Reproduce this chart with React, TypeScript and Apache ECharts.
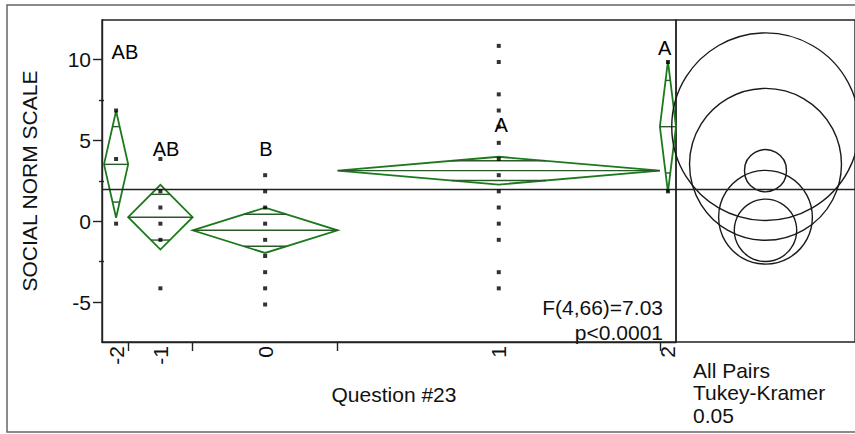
import React, { useEffect, useRef } from "react";
import * as echarts from "echarts";

// ---- data ----
const categories = ["-2", "-1", "0", "1", "2"];
const counts = [3, 8, 18, 40, 2];
const groupMeans = [3.52, 0.25, -0.56, 3.13, 5.85];
const ciHalf = [3.3, 2.0, 1.4, 0.86, 4.05];
const circleRadius = [4.7, 2.9, 1.93, 1.3, 5.8];
const grandMean = 2.0;
const letters = ["AB", "AB", "B", "A", "A"];
const letterX = [2.6, 7.7, 20.1, 49.3, 69.6];
const letterY = [10.45, 4.45, 4.45, 5.95, 10.7];

const pointsM2 = [6.85, 3.85, -0.15];
const pointsM1 = [3.85, 1.85, 0.85, -0.15, -1.15, -4.15];
const points0 = [2.85, 1.85, 0.85, -0.15, -1.15, -2.15, -3.15, -4.15, -5.15];
const points1 = [10.85, 9.85, 7.85, 6.85, 5.85, 4.85, 3.85, 2.85, 1.85, 0.85, -0.15, -1.15, -3.15, -4.15];
const points2 = [9.85, 1.85];
const groupPoints = [pointsM2, pointsM1, points0, points1, points2];

const yMajorTicks = [-5, 0, 5, 10];
const yMinorTicks = [-2.5, 2.5, 7.5];
const statLines = ["F(4,66)=7.03", "p<0.0001"];
const testLines = ["All Pairs", "Tukey-Kramer", "0.05"];
const xTitle = "Question #23";
const yTitle = "SOCIAL NORM SCALE";

const FONT = "'Liberation Sans', Arial, sans-serif";
const FS = 21;
const TXT = "#111";
const GREEN = "#1c7a1c";
const GREEN_DARK = "#2a5a2a";
const AXIS = "#222";
const Y_MIN = -7.47;
const Y_MAX = 12.45;

function buildOption() {
  const starts: number[] = [];
  let acc = 0;
  counts.forEach((n) => {
    starts.push(acc);
    acc += n;
  });
  const total = acc;
  const ends = starts.map((s, i) => s + counts[i]);
  const centers = starts.map((s, i) => s + counts[i] / 2);
  const boundaries = ends.slice(0, ends.length - 1);

  const diamondData = categories.map((_, i) => [starts[i], ends[i], groupMeans[i], ciHalf[i]]);
  const pointData: number[][] = [];
  groupPoints.forEach((arr, i) => arr.forEach((v) => pointData.push([centers[i], v])));
  const letterData = letters.map((l, i) => ({ value: [letterX[i], letterY[i]], name: l }));
  const circleData = categories.map((_, i) => [0, groupMeans[i], circleRadius[i]]);

  const meanLine = {
    silent: true,
    symbol: ["none", "none"],
    label: { show: false },
    lineStyle: { color: AXIS, width: 1.3, type: "solid" },
    data: [{ yAxis: grandMean }],
  };

  return {
    animation: false,
    backgroundColor: "#fff",
    textStyle: { fontFamily: FONT },
    grid: [
      { left: 102, top: 20, right: 179, bottom: 92, show: true, borderColor: AXIS, borderWidth: 1.4 },
      { left: 676, top: 20, width: 181, bottom: 92, show: true, borderColor: AXIS, borderWidth: 1.4 },
    ],
    xAxis: [
      {
        type: "value",
        gridIndex: 0,
        min: -0.25,
        max: total,
        name: xTitle,
        nameLocation: "middle",
        nameGap: 42,
        nameTextStyle: { fontSize: FS, color: TXT, fontFamily: FONT, padding: [0, 0, 0, 10] },
        splitLine: { show: false },
        axisLine: { show: true, onZero: false, lineStyle: { color: AXIS, width: 1.4 } },
        axisTick: { show: true, length: 9, customValues: boundaries, lineStyle: { color: AXIS, width: 1.4 } },
        axisLabel: {
          show: true,
          customValues: centers,
          rotate: 90,
          margin: 4,
          fontSize: FS,
          color: TXT,
          fontFamily: FONT,
          formatter: (v: number) => {
            const idx = centers.findIndex((c) => Math.abs(c - v) < 1e-6);
            return idx >= 0 ? categories[idx] : "";
          },
        },
      },
      { type: "value", gridIndex: 1, min: -1, max: 1, show: false },
    ],
    yAxis: [
      {
        type: "value",
        gridIndex: 0,
        min: Y_MIN,
        max: Y_MAX,
        name: yTitle,
        nameLocation: "middle",
        nameGap: 62,
        nameRotate: 90,
        nameTextStyle: { fontSize: FS, color: TXT, fontFamily: FONT },
        splitLine: { show: false },
        axisLine: { show: true, onZero: false, lineStyle: { color: AXIS, width: 1.4 } },
        axisTick: { show: true, length: 9, customValues: yMajorTicks, lineStyle: { color: AXIS, width: 1.4 } },
        axisLabel: { show: true, customValues: yMajorTicks, margin: 11, fontSize: FS, color: TXT, fontFamily: FONT },
      },
      {
        type: "value",
        gridIndex: 0,
        position: "left",
        min: Y_MIN,
        max: Y_MAX,
        splitLine: { show: false },
        axisLine: { show: false },
        axisLabel: { show: false },
        axisTick: { show: true, length: 5, customValues: yMinorTicks, lineStyle: { color: AXIS, width: 1.4 } },
      },
      { type: "value", gridIndex: 1, min: Y_MIN, max: Y_MAX, show: false },
    ],
    series: [
      {
        type: "custom",
        name: "diamonds",
        xAxisIndex: 0,
        yAxisIndex: 0,
        encode: { x: [0, 1], y: 2 },
        data: diamondData,
        markLine: meanLine,
        renderItem: (params: any, api: any) => {
          const x0 = api.value(0);
          const x1 = api.value(1);
          const m = api.value(2);
          const h = api.value(3);
          const xc = (x0 + x1) / 2;
          const pL = api.coord([x0, m]);
          const pR = api.coord([x1, m]);
          const pT = api.coord([xc, m + h]);
          const pB = api.coord([xc, m - h]);
          const d = h / Math.SQRT2;
          const hw = ((x1 - x0) / 2) * (1 - 1 / Math.SQRT2);
          const uA = api.coord([xc - hw, m + d]);
          const uB = api.coord([xc + hw, m + d]);
          const lA = api.coord([xc - hw, m - d]);
          const lB = api.coord([xc + hw, m - d]);
          const lineStyle = { stroke: GREEN_DARK, lineWidth: 1.4 };
          return {
            type: "group",
            children: [
              {
                type: "polygon",
                shape: { points: [pL, pT, pR, pB] },
                style: { fill: "none", stroke: GREEN, lineWidth: 1.8 },
              },
              { type: "line", shape: { x1: pL[0], y1: pL[1], x2: pR[0], y2: pR[1] }, style: lineStyle },
              { type: "line", shape: { x1: uA[0], y1: uA[1], x2: uB[0], y2: uB[1] }, style: lineStyle },
              { type: "line", shape: { x1: lA[0], y1: lA[1], x2: lB[0], y2: lB[1] }, style: lineStyle },
            ],
          };
        },
      },
      {
        type: "scatter",
        name: "points",
        xAxisIndex: 0,
        yAxisIndex: 0,
        symbol: "rect",
        symbolSize: [4, 4],
        itemStyle: { color: "#000" },
        data: pointData,
        z: 5,
      },
      {
        type: "scatter",
        name: "letters",
        xAxisIndex: 0,
        yAxisIndex: 0,
        symbolSize: 0,
        itemStyle: { color: "#000", opacity: 0 },
        data: letterData,
        label: {
          show: true,
          position: "inside",
          formatter: (p: any) => p.name,
          fontSize: 20,
          color: "#000",
          opacity: 1,
          textBorderWidth: 0,
          textBorderColor: "transparent",
          fontFamily: FONT,
        },
        z: 6,
      },
      {
        type: "custom",
        name: "circles",
        xAxisIndex: 1,
        yAxisIndex: 2,
        encode: { x: 0, y: 1 },
        data: circleData,
        markLine: meanLine,
        renderItem: (params: any, api: any) => {
          const c = api.coord([api.value(0), api.value(1)]);
          const r = api.size([0, api.value(2)])[1];
          return {
            type: "circle",
            shape: { cx: c[0], cy: c[1], r },
            style: { fill: "none", stroke: "#1a1a1a", lineWidth: 1.4 },
          };
        },
      },
    ],
    graphic: [
      {
        type: "rect",
        silent: true,
        shape: { x: 7, y: 5, width: 870, height: 427 },
        style: { fill: "none", stroke: "#666", lineWidth: 1.5 },
      },
      ...statLines.map((t, i) => ({
        type: "text",
        silent: true,
        x: 663,
        y: 307 + i * 25,
        style: {
          text: t,
          fontSize: FS,
          fontFamily: FONT,
          fill: TXT,
          textAlign: "right",
          textVerticalAlign: "middle",
        },
      })),
      ...testLines.map((t, i) => ({
        type: "text",
        silent: true,
        x: 693,
        y: 370 + i * 22.5,
        style: {
          text: t,
          fontSize: FS,
          fontFamily: FONT,
          fill: TXT,
          textAlign: "left",
          textVerticalAlign: "middle",
        },
      })),
    ],
  };
}

export default function App() {
  const ref = useRef<HTMLDivElement>(null);
  useEffect(() => {
    if (!ref.current) return;
    const chart = echarts.init(ref.current, null, { renderer: "svg" });
    chart.setOption(buildOption() as any);
    return () => chart.dispose();
  }, []);
  return (
    <div
      ref={ref}
      style={{ position: "absolute", left: 0, top: 0, width: 855, height: 434, background: "#fff" }}
    />
  );
}
